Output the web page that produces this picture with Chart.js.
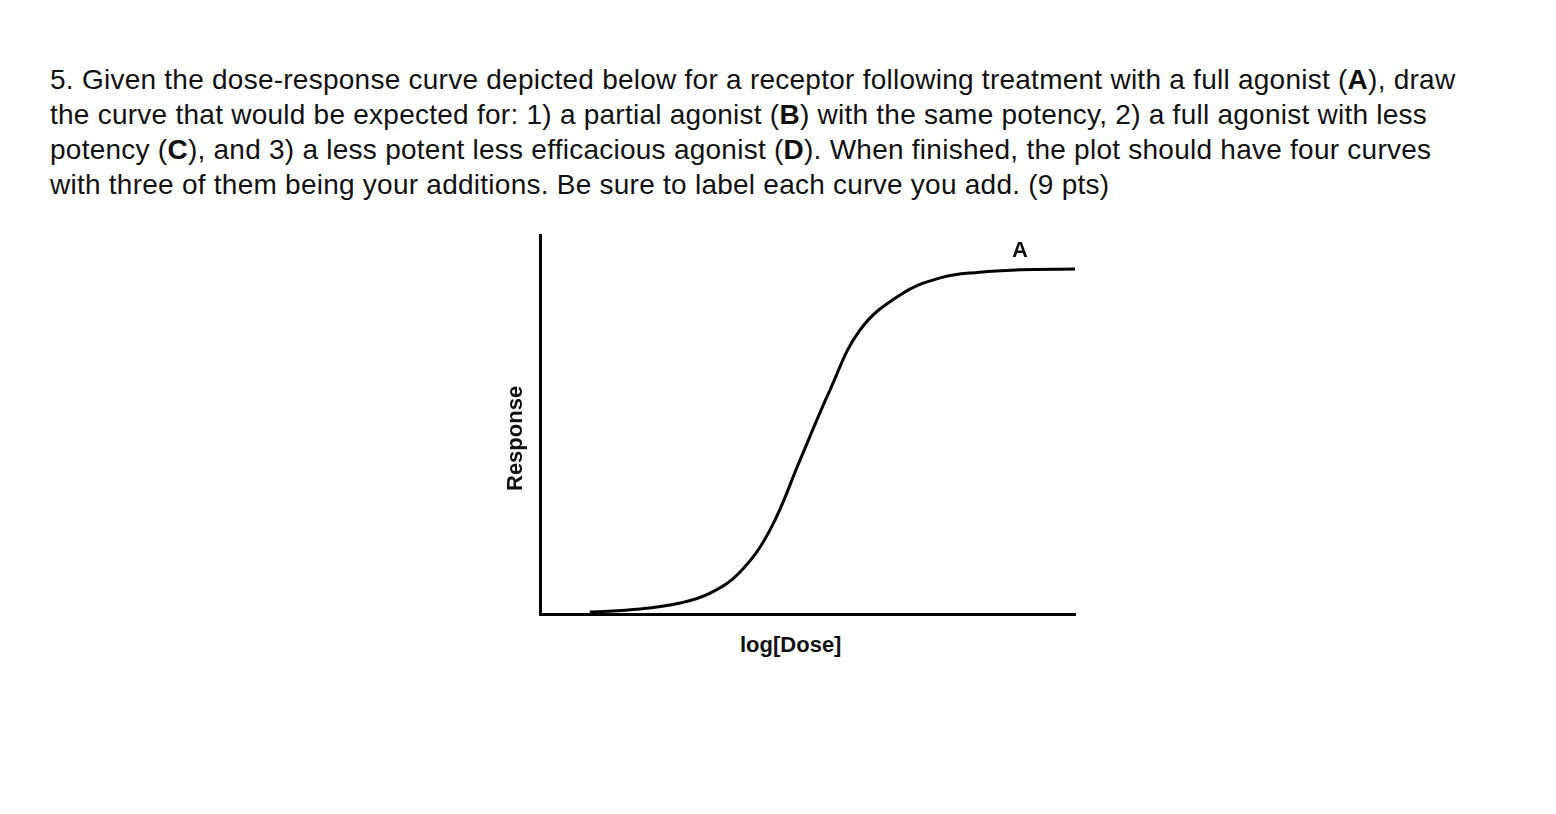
<!DOCTYPE html>
<html>
<head>
<meta charset="utf-8">
<script src="https://cdn.jsdelivr.net/npm/chart.js@4"></script>
<style>
  body { margin: 0; background: #fff; width: 1556px; height: 814px; position: relative; font-family: "Liberation Sans", Arial, sans-serif; }
  #q { position: absolute; left: 50px; top: 62px; font-size: 28px; line-height: 35px; color: #111; white-space: nowrap; letter-spacing: 0.25px; }
  #box { position: absolute; left: 522px; top: 225px; width: 563px; height: 407px; }
  .lbl { position: absolute; font-size: 22px; color: #111; font-weight: bold; }
</style>
</head>
<body>
<div id="q">5. Given the dose-response curve depicted below for a receptor following treatment with a full agonist (<b>A</b>), draw<br>the curve that would be expected for: 1) a partial agonist (<b>B</b>) with the same potency, 2) a full agonist with less<br>potency (<b>C</b>), and 3) a less potent less efficacious agonist (<b>D</b>). When finished, the plot should have four curves<br>with three of them being your additions. Be sure to label each curve you add. (9 pts)</div>
<div id="box"><canvas id="c"></canvas></div>
<div class="lbl" style="left:1012px;top:237px;">A</div>
<div class="lbl" style="left:740px;top:632px;">log[Dose]</div>
<div class="lbl" style="left:465px;top:428px;transform:rotate(-90deg);transform-origin:center;width:100px;text-align:center;">Response</div>
<script>
// curve A (x: log dose 0-10, y: response 0-100)
const doseA = [0.93, 1.87, 2.62, 3.18, 3.74, 4.30, 4.86, 5.42, 5.98, 6.73, 7.48, 8.22, 8.97, 10];
const responseA = [0.5, 1.3, 2.9, 5.5, 11.1, 22.2, 40.6, 59.1, 74.9, 84.2, 88.7, 90.2, 90.8, 91.0];

const hiddenAxis = {
  type: 'linear',
  grid: { display: false },
  ticks: { display: false },
  border: { display: true, color: '#000', width: 3 }
};

new Chart(document.getElementById('c'), {
  type: 'line',
  data: {
    datasets: [{
      label: 'A',
      data: doseA.map((x, i) => ({ x: x, y: responseA[i] })),
      borderColor: '#000',
      borderWidth: 3,
      pointRadius: 0,
      tension: 0.4,
      fill: false
    }]
  },
  options: {
    responsive: true,
    maintainAspectRatio: false,
    animation: false,
    layout: { padding: 10 },
    plugins: { legend: { display: false }, tooltip: { enabled: false } },
    scales: {
      x: { ...hiddenAxis, min: 0, max: 10 },
      y: { ...hiddenAxis, min: 0, max: 100 }
    }
  }
});
</script>
</body>
</html>
